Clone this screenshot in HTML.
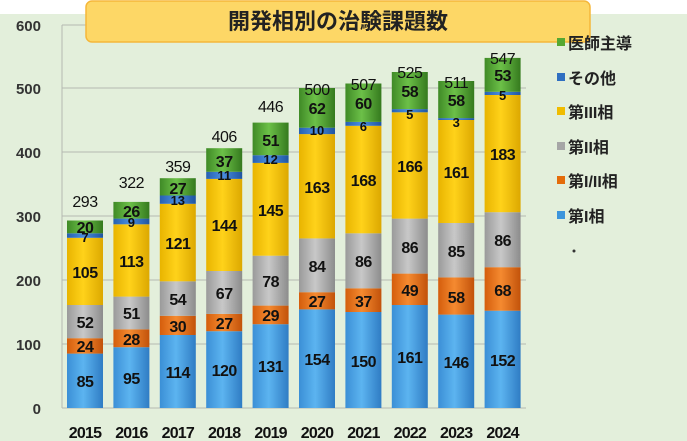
<!DOCTYPE html>
<html><head><meta charset="utf-8"><style>
html,body{margin:0;padding:0;background:#fff}
svg{display:block}
text{font-family:"Liberation Sans","Noto Sans CJK JP",sans-serif}
.v{font-size:16px;font-weight:bold;fill:#111;text-anchor:middle;letter-spacing:-0.5px}
.s{font-size:13px;font-weight:bold;fill:#111;text-anchor:middle}
.t{font-size:16px;fill:#111;text-anchor:middle;letter-spacing:-0.5px}
.ax{font-size:15px;font-weight:bold;fill:#333;text-anchor:end}
.xl{font-size:16px;font-weight:bold;fill:#111;text-anchor:middle;letter-spacing:-0.8px}
.lg{font-size:16px;font-weight:bold;fill:#222}
</style></head><body>
<svg width="687" height="441" viewBox="0 0 687 441" xmlns="http://www.w3.org/2000/svg">
<defs>
<linearGradient id="gb" x1="0" x2="1"><stop offset="0" stop-color="#3b8fd6"/><stop offset=".45" stop-color="#5cb4f0"/><stop offset="1" stop-color="#2f7cc4"/></linearGradient>
<linearGradient id="go" x1="0" x2="1"><stop offset="0" stop-color="#d45d0c"/><stop offset=".45" stop-color="#f58a30"/><stop offset="1" stop-color="#c2520a"/></linearGradient>
<linearGradient id="gg" x1="0" x2="1"><stop offset="0" stop-color="#9a9a9a"/><stop offset=".45" stop-color="#c8c8c8"/><stop offset="1" stop-color="#8c8c8c"/></linearGradient>
<linearGradient id="gy" x1="0" x2="1"><stop offset="0" stop-color="#e8b400"/><stop offset=".45" stop-color="#ffd21a"/><stop offset="1" stop-color="#dca800"/></linearGradient>
<linearGradient id="gd" x1="0" x2="1"><stop offset="0" stop-color="#2660b0"/><stop offset=".45" stop-color="#4a8ee0"/><stop offset="1" stop-color="#1f55a0"/></linearGradient>
<linearGradient id="gn" x1="0" x2="1"><stop offset="0" stop-color="#3f8a26"/><stop offset=".45" stop-color="#6cc048"/><stop offset="1" stop-color="#357a1e"/></linearGradient>
</defs>
<rect x="0" y="0" width="687" height="441" fill="#fff"/>
<rect x="0" y="14" width="687" height="427" fill="#e3efdb"/>
<g stroke="#b5b8b2" stroke-width="1">
<line x1="62" y1="25" x2="526" y2="25"/><line x1="62" y1="88" x2="526" y2="88"/>
<line x1="62" y1="152" x2="526" y2="152"/><line x1="62" y1="216" x2="526" y2="216"/>
<line x1="62" y1="280" x2="526" y2="280"/><line x1="62" y1="344" x2="526" y2="344"/>
<line x1="62" y1="408" x2="526" y2="408"/><line x1="62" y1="25" x2="62" y2="408"/>
</g>
<g class="ax">
<text x="41" y="31">600</text><text x="41" y="94">500</text><text x="41" y="158">400</text>
<text x="41" y="222">300</text><text x="41" y="286">200</text><text x="41" y="350">100</text><text x="41" y="414">0</text>
</g>
<rect x="86" y="1" width="504" height="41" rx="6" fill="#fdd766" stroke="#f5b73a" stroke-width="1.5"/>
<text x="338" y="29" style="font-size:22px;font-weight:bold;fill:#222;text-anchor:middle">開発相別の治験課題数</text>
<g>
<rect x="67" y="353.6" width="36" height="54.4" fill="url(#gb)"/><rect x="67" y="338.2" width="36" height="15.4" fill="url(#go)"/><rect x="67" y="305" width="36" height="33.2" fill="url(#gg)"/><rect x="67" y="237.8" width="36" height="67.2" fill="url(#gy)"/><rect x="67" y="233.3" width="36" height="4.5" fill="url(#gd)"/><rect x="67" y="220.5" width="36" height="12.8" fill="url(#gn)"/>
<rect x="113.4" y="347.2" width="36" height="60.8" fill="url(#gb)"/><rect x="113.4" y="329.3" width="36" height="17.9" fill="url(#go)"/><rect x="113.4" y="296.6" width="36" height="32.7" fill="url(#gg)"/><rect x="113.4" y="224.3" width="36" height="72.3" fill="url(#gy)"/><rect x="113.4" y="218.6" width="36" height="5.7" fill="url(#gd)"/><rect x="113.4" y="201.9" width="36" height="16.7" fill="url(#gn)"/>
<rect x="159.8" y="335" width="36" height="73" fill="url(#gb)"/><rect x="159.8" y="315.8" width="36" height="19.2" fill="url(#go)"/><rect x="159.8" y="281.3" width="36" height="34.5" fill="url(#gg)"/><rect x="159.8" y="203.8" width="36" height="77.5" fill="url(#gy)"/><rect x="159.8" y="195.5" width="36" height="8.3" fill="url(#gd)"/><rect x="159.8" y="178.2" width="36" height="17.3" fill="url(#gn)"/>
<rect x="206.2" y="331.2" width="36" height="76.8" fill="url(#gb)"/><rect x="206.2" y="313.9" width="36" height="17.3" fill="url(#go)"/><rect x="206.2" y="271" width="36" height="42.9" fill="url(#gg)"/><rect x="206.2" y="178.9" width="36" height="92.1" fill="url(#gy)"/><rect x="206.2" y="171.8" width="36" height="7.1" fill="url(#gd)"/><rect x="206.2" y="148.2" width="36" height="23.6" fill="url(#gn)"/>
<rect x="252.6" y="324.2" width="36" height="83.8" fill="url(#gb)"/><rect x="252.6" y="305.6" width="36" height="18.6" fill="url(#go)"/><rect x="252.6" y="255.7" width="36" height="49.9" fill="url(#gg)"/><rect x="252.6" y="162.9" width="36" height="92.8" fill="url(#gy)"/><rect x="252.6" y="155.2" width="36" height="7.7" fill="url(#gd)"/><rect x="252.6" y="122.6" width="36" height="32.6" fill="url(#gn)"/>
<rect x="299" y="309.4" width="36" height="98.6" fill="url(#gb)"/><rect x="299" y="292.2" width="36" height="17.2" fill="url(#go)"/><rect x="299" y="238.4" width="36" height="53.8" fill="url(#gg)"/><rect x="299" y="134.1" width="36" height="104.3" fill="url(#gy)"/><rect x="299" y="127.7" width="36" height="6.4" fill="url(#gd)"/><rect x="299" y="88" width="36" height="39.7" fill="url(#gn)"/>
<rect x="345.4" y="312" width="36" height="96" fill="url(#gb)"/><rect x="345.4" y="288.3" width="36" height="23.7" fill="url(#go)"/><rect x="345.4" y="233.3" width="36" height="55" fill="url(#gg)"/><rect x="345.4" y="125.8" width="36" height="107.5" fill="url(#gy)"/><rect x="345.4" y="121.9" width="36" height="3.9" fill="url(#gd)"/><rect x="345.4" y="83.5" width="36" height="38.4" fill="url(#gn)"/>
<rect x="391.8" y="305" width="36" height="103" fill="url(#gb)"/><rect x="391.8" y="273.6" width="36" height="31.4" fill="url(#go)"/><rect x="391.8" y="218.6" width="36" height="55" fill="url(#gg)"/><rect x="391.8" y="112.3" width="36" height="106.3" fill="url(#gy)"/><rect x="391.8" y="109.1" width="36" height="3.2" fill="url(#gd)"/><rect x="391.8" y="72" width="36" height="37.1" fill="url(#gn)"/>
<rect x="438.2" y="314.6" width="36" height="93.4" fill="url(#gb)"/><rect x="438.2" y="277.4" width="36" height="37.2" fill="url(#go)"/><rect x="438.2" y="223" width="36" height="54.4" fill="url(#gg)"/><rect x="438.2" y="120" width="36" height="103" fill="url(#gy)"/><rect x="438.2" y="118.1" width="36" height="1.9" fill="url(#gd)"/><rect x="438.2" y="81" width="36" height="37.1" fill="url(#gn)"/>
<rect x="484.6" y="310.7" width="36" height="97.3" fill="url(#gb)"/><rect x="484.6" y="267.2" width="36" height="43.5" fill="url(#go)"/><rect x="484.6" y="212.2" width="36" height="55" fill="url(#gg)"/><rect x="484.6" y="95" width="36" height="117.2" fill="url(#gy)"/><rect x="484.6" y="91.8" width="36" height="3.2" fill="url(#gd)"/><rect x="484.6" y="57.9" width="36" height="33.9" fill="url(#gn)"/>
</g>
<g class="v">
<text x="85" y="387">85</text><text x="85" y="352">24</text><text x="85" y="328">52</text><text x="85" y="278">105</text><text x="85" y="233">20</text>
<text x="131.4" y="384">95</text><text x="131.4" y="345">28</text><text x="131.4" y="319">51</text><text x="131.4" y="267">113</text><text x="131.4" y="217">26</text>
<text x="177.8" y="378">114</text><text x="177.8" y="332">30</text><text x="177.8" y="305">54</text><text x="177.8" y="249">121</text><text x="177.8" y="194">27</text>
<text x="224.2" y="376">120</text><text x="224.2" y="329">27</text><text x="224.2" y="299">67</text><text x="224.2" y="231">144</text><text x="224.2" y="167">37</text>
<text x="270.6" y="372">131</text><text x="270.6" y="321">29</text><text x="270.6" y="287">78</text><text x="270.6" y="216">145</text><text x="270.6" y="146">51</text>
<text x="317" y="365">154</text><text x="317" y="307">27</text><text x="317" y="272">84</text><text x="317" y="193">163</text><text x="317" y="114">62</text>
<text x="363.4" y="367">150</text><text x="363.4" y="307">37</text><text x="363.4" y="267">86</text><text x="363.4" y="186">168</text><text x="363.4" y="109">60</text>
<text x="409.8" y="363">161</text><text x="409.8" y="296">49</text><text x="409.8" y="253">86</text><text x="409.8" y="172">166</text><text x="409.8" y="97">58</text>
<text x="456.2" y="368">146</text><text x="456.2" y="303">58</text><text x="456.2" y="257">85</text><text x="456.2" y="178">161</text><text x="456.2" y="106">58</text>
<text x="502.6" y="366">152</text><text x="502.6" y="296">68</text><text x="502.6" y="246">86</text><text x="502.6" y="160">183</text><text x="502.6" y="81">53</text>
</g>
<g class="s">
<text x="85" y="242">7</text><text x="131.4" y="227">9</text><text x="177.8" y="205">13</text><text x="224.2" y="180">11</text><text x="270.6" y="164">12</text>
<text x="317" y="135">10</text><text x="363.4" y="131">6</text><text x="409.8" y="119">5</text><text x="456.2" y="127">3</text><text x="502.6" y="100">5</text>
</g>
<g class="t">
<text x="85" y="207">293</text><text x="131.4" y="188">322</text><text x="177.8" y="172">359</text><text x="224.2" y="142">406</text><text x="270.6" y="112">446</text>
<text x="317" y="95">500</text><text x="363.4" y="90">507</text><text x="409.8" y="78">525</text><text x="456.2" y="88">511</text><text x="502.6" y="64">547</text>
</g>
<g class="xl">
<text x="85" y="438">2015</text><text x="131.4" y="438">2016</text><text x="177.8" y="438">2017</text><text x="224.2" y="438">2018</text><text x="270.6" y="438">2019</text>
<text x="317" y="438">2020</text><text x="363.4" y="438">2021</text><text x="409.8" y="438">2022</text><text x="456.2" y="438">2023</text><text x="502.6" y="438">2024</text>
</g>
<rect x="557" y="38" width="8" height="8" fill="#55a832"/><text class="lg" x="568" y="49">医師主導</text>
<rect x="557" y="73" width="8" height="8" fill="#2f6fc1"/><text class="lg" x="568" y="84">その他</text>
<rect x="557" y="107" width="8" height="8" fill="#f0bc00"/><text class="lg" x="568" y="118">第III相</text>
<rect x="557" y="142" width="8" height="8" fill="#a6a6a6"/><text class="lg" x="568" y="153">第II相</text>
<rect x="557" y="176" width="8" height="8" fill="#e46c0a"/><text class="lg" x="568" y="187">第I/II相</text>
<rect x="557" y="211" width="8" height="8" fill="#3d95dc"/><text class="lg" x="568" y="222">第I相</text>
<circle cx="574" cy="251" r="1.5" fill="#333"/>
</svg>
</body></html>
